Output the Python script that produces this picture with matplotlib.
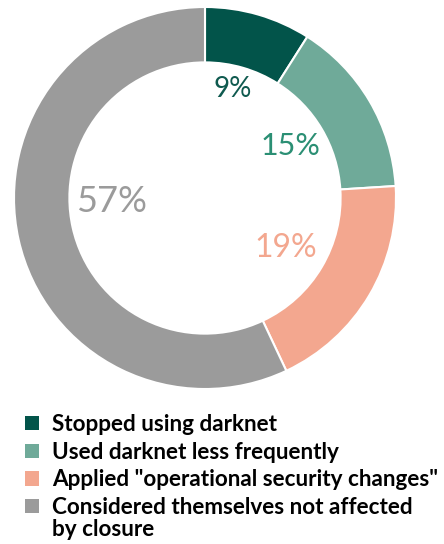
import matplotlib
matplotlib.use("Agg")
import matplotlib.pyplot as plt
from matplotlib.patches import Patch

categories = ["Stopped using darknet", "Used darknet less frequently",
              "Applied \"operational security changes\"",
              "Considered themselves not affected\nby closure"]
values = [9, 15, 19, 57]
labels = ["9%", "15%", "19%", "57%"]
colors = ["#02544a", "#6faa99", "#f3a78f", "#9b9b9b"]
text_colors = ["#0f5a4f", "#2b8f74", "#f3a78f", "#9b9b9b"]
label_sizes = [20, 22, 23, 26]

W, H = 444, 544
fig = plt.figure(figsize=(W / 100, H / 100), dpi=100)
cx, cy, r = 205, 198, 191
ax = fig.add_axes([(cx - r) / W, (H - cy - r) / H, 2 * r / W, 2 * r / H])

wedges, _ = ax.pie(values, colors=colors, startangle=90, counterclock=False,
                   radius=1, wedgeprops=dict(width=0.29, edgecolor="white", linewidth=1.5))
ax.set_xlim(-1, 1)
ax.set_ylim(-1, 1)
ax.set_aspect("equal")
ax.axis("off")

# label positions (pixel positions converted to data units relative to center)
label_pos = [(233, 89), (290, 146), (286, 248), (112, 201)]
for (px, py), lab, c, s in zip(label_pos, labels, text_colors, label_sizes):
    ax.text((px - cx) / r, -(py - cy) / r, lab, color=c, fontsize=s,
            family="Lato", ha="center", va="center")

# legend: first lines in the legend, wrapped remainder as continuation text
first_lines = [c.split("\n")[0] for c in categories]
rest = [c.split("\n")[1:] for c in categories]
handles = [Patch(facecolor=c, edgecolor="none") for c in colors]
fprop = dict(family="Lato", weight="bold", size=16.2)
leg = fig.legend(handles, first_lines, loc="upper left",
                 bbox_to_anchor=(25 / W, 1 - 414 / H), frameon=False,
                 prop=fprop,
                 handlelength=0.6, handleheight=0.6, handletextpad=0.6,
                 labelspacing=0.3, borderaxespad=0, borderpad=0)
for i, extra in enumerate(rest):
    for j, line in enumerate(extra):
        fig.text(52 / W, 1 - (530 + 26 * j) / H, line,
                 family="Lato", weight="bold", size=16.2,
                 ha="left", va="center")

fig.savefig("out.png", dpi=100)
